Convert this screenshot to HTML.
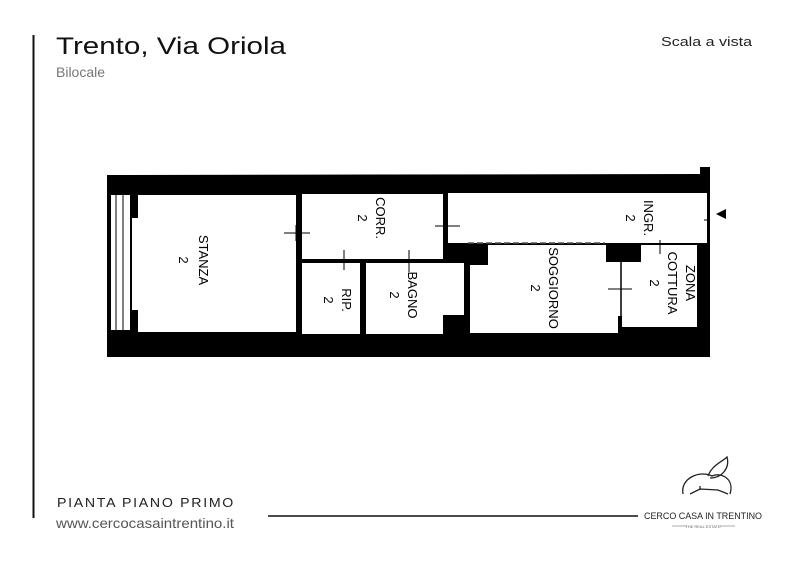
<!DOCTYPE html>
<html><head><meta charset="utf-8"><style>
html,body{margin:0;padding:0;background:#fff;}
svg{display:block}
text{font-family:"Liberation Sans",sans-serif}
</style></head><body>
<svg width="800" height="565" viewBox="0 0 800 565" xmlns="http://www.w3.org/2000/svg">
<rect width="800" height="565" fill="#fff"/>
<line x1="33.5" y1="35" x2="33.5" y2="518" stroke="#111" stroke-width="2"/>
<text x="56" y="54" font-size="24" fill="#111" textLength="230" lengthAdjust="spacingAndGlyphs">Trento, Via Oriola</text>
<text x="56" y="77" font-size="14" fill="#777">Bilocale</text>
<text x="661" y="46" font-size="13" fill="#222" textLength="91" lengthAdjust="spacingAndGlyphs">Scala a vista</text>
<text x="57" y="507" font-size="12.5" fill="#222" letter-spacing="1.5" textLength="178" lengthAdjust="spacingAndGlyphs">PIANTA PIANO PRIMO</text>
<text x="56" y="528" font-size="14" fill="#555" textLength="178" lengthAdjust="spacingAndGlyphs">www.cercocasaintrentino.it</text>
<line x1="268" y1="516" x2="638" y2="516" stroke="#111" stroke-width="1.5"/>

<polygon points="107,175 700,174 700,167 710,167 710,357 107,357" fill="#000"/>
<rect x="111" y="195" width="19" height="135" fill="#fff"/>
<line x1="116" y1="195" x2="116" y2="330" stroke="#000" stroke-width="1"/>
<line x1="123" y1="195" x2="123" y2="330" stroke="#000" stroke-width="1"/>
<polygon points="138,195 296,195 296,332 138,332 138,310 132,310 132,218 138,218" fill="#fff"/>
<rect x="302" y="194" width="141" height="65" fill="#fff"/>
<rect x="448" y="193" width="259" height="50" fill="#fff"/>
<rect x="302" y="263" width="58" height="71" fill="#fff"/>
<polygon points="366,263 464,263 464,315 443,315 443,334 366,334" fill="#fff"/>
<polygon points="488,245 606,245 606,265 618,265 618,333 470,333 470,265 488,265" fill="#fff"/>
<polygon points="641,245 697,245 697,327 622,327 622,316 606,316 606,262 641,262" fill="#fff"/>
<rect x="606" y="262" width="16" height="54" fill="#fff"/>
<line x1="621" y1="262" x2="621" y2="318" stroke="#000" stroke-width="1.5"/>
<line x1="468" y1="243" x2="605" y2="243" stroke="#555" stroke-width="1.5" stroke-dasharray="6,3"/>
<g stroke="#000" stroke-width="1">
<line x1="284" y1="233" x2="310" y2="233"/><line x1="296" y1="225" x2="296" y2="241"/>
<line x1="435" y1="226" x2="460" y2="226"/><line x1="445" y1="218" x2="445" y2="234"/>
<line x1="344" y1="250" x2="344" y2="270"/><line x1="336" y1="261" x2="352" y2="261"/>
<line x1="409" y1="250" x2="409" y2="272"/><line x1="401" y1="261" x2="417" y2="261"/>
<line x1="608" y1="289" x2="632" y2="289"/>
<line x1="660" y1="240" x2="660" y2="254"/>
<line x1="704" y1="220" x2="710" y2="220"/>
</g>
<polygon points="716,214 726,209 726,219" fill="#000"/>
<g font-size="13" fill="#000" text-anchor="middle">
<g transform="translate(195,260) rotate(90)"><text x="0" y="-4">STANZA</text><text x="0" y="16">2</text></g>
<g transform="translate(372,218) rotate(90)"><text x="0" y="-4">CORR.</text><text x="0" y="14">2</text></g>
<g transform="translate(338,300) rotate(90)"><text x="0" y="-4">RIP.</text><text x="0" y="14">2</text></g>
<g transform="translate(404,295) rotate(90)"><text x="0" y="-4">BAGNO</text><text x="0" y="14">2</text></g>
<g transform="translate(545,288) rotate(90)"><text x="0" y="-4">SOGGIORNO</text><text x="0" y="14">2</text></g>
<g transform="translate(640,218) rotate(90)"><text x="0" y="-4">INGR.</text><text x="0" y="14">2</text></g>
<g transform="translate(665,283) rotate(90)"><text x="0" y="-21">ZONA</text><text x="0" y="-3">COTTURA</text><text x="0" y="15">2</text></g>
</g>

<g fill="none" stroke="#222" stroke-width="1.3">
<path d="M683,494 C680,478 700,470 712,476 C720,472 735,478 730,494"/>
<path d="M708,476 C712,465 722,462 727,457 C730,468 722,478 710,478"/>
<path d="M690,494 L700,489 L718,490 L728,494"/>
<path d="M700,486 L700,490"/>
</g>
<text x="703" y="519" font-size="9.5" fill="#222" text-anchor="middle" textLength="118" lengthAdjust="spacingAndGlyphs">CERCO CASA IN TRENTINO</text>
<line x1="672" y1="526" x2="687" y2="526" stroke="#888" stroke-width="0.7"/>
<line x1="720" y1="526" x2="735" y2="526" stroke="#888" stroke-width="0.7"/>
<text x="703" y="528" font-size="4" fill="#666" text-anchor="middle">THE REAL ESTATE</text>
</svg>
</body></html>
